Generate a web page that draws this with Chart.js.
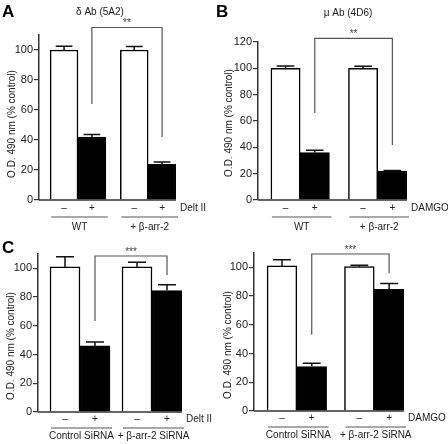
<!DOCTYPE html>
<html>
<head>
<meta charset="utf-8">
<script src="https://cdn.jsdelivr.net/npm/chart.js@4.4.1/dist/chart.umd.min.js"></script>
<style>
    html, body { margin: 0; padding: 0; background: #fff; }
    #wrap { position: relative; width: 448px; height: 444px; }
    #wrap canvas { position: absolute; left: 0; top: 0; }
</style>
</head>
<body>
<div id="wrap">
    <canvas id="panelA" width="448" height="444"></canvas>
    <canvas id="panelB" width="448" height="444"></canvas>
    <canvas id="panelC1" width="448" height="444"></canvas>
    <canvas id="panelC2" width="448" height="444"></canvas>
</div>
<script>
const treatments = ['–', '+'];
const groupsAB = ['WT', '+ β-arr-2'];
const groupsC = ['Control SiRNA', '+ β-arr-2 SiRNA'];

// % control, order: group1 −, group1 +, group2 −, group2 +
const deltValues = [100, 42, 100, 23.7];
const deltErrors = [2.5, 1.6, 2.3, 1.6];
const damgoValues = [100, 36, 100, 22];
const damgoErrors = [1.8, 1.8, 1.5, 0.4];
const deltSiValues = [101, 46, 101, 84.6];
const deltSiErrors = [7, 2.8, 3.3, 4];
const damgoSiValues = [101, 31, 100.5, 84.7];
const damgoSiErrors = [4.3, 2.3, 0.9, 4.1];

const tickStep = 20;
const yTitle = 'O.D. 490 nm (% control)';
const FONT = '"Liberation Sans", Arial, Helvetica, sans-serif';

const panels = [
    {
        id: 'panelA', letter: 'A', letterAt: [2, 12], title: 'δ Ab (5A2)', titleAt: [100, 12],
        drug: 'Delt II', values: deltValues, errors: deltErrors, groups: groupsAB, yMax: 110,
        box: { left: 39, right: 176, top: 35, bottom: 200 }, pad: 0.4, gap: 0.52,
        rows: [8, 17, 27], yTitleAt: [12, 124],
        bracket: { top: 115, ends: [64, 42], stars: '**' },
    },
    {
        id: 'panelB', letter: 'B', letterAt: [216, 12], title: 'μ Ab (4D6)', titleAt: [348, 13],
        drug: 'DAMGO', values: damgoValues, errors: damgoErrors, groups: groupsAB, yMax: 120,
        box: { left: 258, right: 407, top: 42, bottom: 200 }, pad: 0.44, gap: 0.65,
        rows: [8, 17, 27], yTitleAt: [229, 123],
        bracket: { top: 122.7, ends: [66, 41.7], stars: '**' },
    },
    {
        id: 'panelC1', letter: 'C', letterAt: [2, 248], title: '', titleAt: [0, 0],
        drug: 'Delt II', values: deltSiValues, errors: deltSiErrors, groups: groupsC, yMax: 110,
        box: { left: 38, right: 182, top: 254, bottom: 412 }, pad: 0.4, gap: 0.4,
        rows: [7, 16, 24], yTitleAt: [11, 346],
        bracket: { top: 108.6, ends: [63.4, 95.4], stars: '***' },
    },
    {
        id: 'panelC2', letter: '', letterAt: [0, 0], title: '', titleAt: [0, 0],
        drug: 'DAMGO', values: damgoSiValues, errors: damgoSiErrors, groups: groupsC, yMax: 110,
        box: { left: 254, right: 404, top: 253, bottom: 411 }, pad: 0.44, gap: 0.6,
        rows: [7, 16, 24], yTitleAt: [228, 345],
        bracket: { top: 109.3, ends: [53, 96], stars: '***' },
    },
];

const decor = {
    id: 'decor',
    afterDraw(chart, args, p) {
        const ctx = chart.ctx;
        const area = chart.chartArea;
        const y = chart.scales.y;
        const bars = chart.getDatasetMeta(0).data;
        const base = y.getPixelForValue(0);

        ctx.save();
        ctx.lineCap = 'butt';

        // baseline
        ctx.strokeStyle = '#333';
        ctx.lineWidth = 1.5;
        ctx.beginPath();
        ctx.moveTo(area.left, base);
        ctx.lineTo(bars[3].x + bars[3].width / 2, base);
        ctx.stroke();

        // error bars (upper half only)
        ctx.strokeStyle = '#111';
        ctx.lineWidth = 1.5;
        bars.forEach((bar, i) => {
            const top = y.getPixelForValue(p.values[i]);
            const errTop = y.getPixelForValue(p.values[i] + p.errors[i]);
            const cap = bar.width * 0.6;
            ctx.beginPath();
            ctx.moveTo(bar.x, top);
            ctx.lineTo(bar.x, errTop);
            ctx.moveTo(bar.x - cap / 2, errTop);
            ctx.lineTo(bar.x + cap / 2, errTop);
            ctx.stroke();
        });

        // treatment row
        ctx.fillStyle = '#222';
        ctx.textBaseline = 'middle';
        ctx.font = `10px ${FONT}`;
        ctx.textAlign = 'center';
        bars.forEach((bar, i) => {
            ctx.fillText(treatments[i % 2], bar.x, base + p.rows[0]);
        });
        ctx.textAlign = 'left';
        ctx.fillText(p.drug, bars[3].x + bars[3].width / 2 + 4, base + p.rows[0]);

        // group underlines and names
        ctx.strokeStyle = '#555';
        ctx.lineWidth = 1.2;
        ctx.textAlign = 'center';
        p.groups.forEach((name, g) => {
            const a = bars[g * 2], b = bars[g * 2 + 1];
            const x0 = a.x - a.width / 2 + 1;
            const x1 = b.x + b.width / 2 + 2;
            ctx.beginPath();
            ctx.moveTo(x0, base + p.rows[1]);
            ctx.lineTo(x1, base + p.rows[1]);
            ctx.stroke();
            ctx.fillText(name, (x0 + x1) / 2, base + p.rows[2]);
        });

        // significance bracket
        const bk = p.bracket;
        const bx0 = bars[1].x, bx1 = bars[3].x;
        const by = y.getPixelForValue(bk.top);
        ctx.strokeStyle = '#555';
        ctx.lineWidth = 1.2;
        ctx.beginPath();
        ctx.moveTo(bx0, y.getPixelForValue(bk.ends[0]));
        ctx.lineTo(bx0, by);
        ctx.lineTo(bx1, by);
        ctx.lineTo(bx1, y.getPixelForValue(bk.ends[1]));
        ctx.stroke();
        ctx.fillStyle = '#444';
        ctx.font = `10px ${FONT}`;
        ctx.fillText(bk.stars, (bx0 + bx1) / 2, by - 4);

        // title
        if (p.title) {
            ctx.fillStyle = '#222';
            ctx.font = `10px ${FONT}`;
            ctx.fillText(p.title, p.titleAt[0], p.titleAt[1]);
        }

        // panel letter
        if (p.letter) {
            ctx.fillStyle = '#000';
            ctx.textAlign = 'left';
            ctx.font = `bold 17px ${FONT}`;
            ctx.fillText(p.letter, p.letterAt[0], p.letterAt[1]);
        }

        // y axis title
        ctx.fillStyle = '#222';
        ctx.font = `10px ${FONT}`;
        ctx.textAlign = 'center';
        ctx.translate(p.yTitleAt[0], p.yTitleAt[1]);
        ctx.rotate(-Math.PI / 2);
        ctx.fillText(yTitle, 0, 0);
        ctx.restore();
    },
};

function makeChart(p) {
    const xs = p.values.map((v, i) => 1 + i + (i >= 2 ? p.gap : 0));

    new Chart(document.getElementById(p.id), {
        type: 'bar',
        data: {
            datasets: [
                {
                    data: p.values.map((v, i) => ({ x: xs[i], y: v })),
                    backgroundColor: p.values.map((v, i) => (i % 2 ? '#000' : '#fff')),
                    borderColor: '#000',
                    borderWidth: 1.5,
                    borderSkipped: 'start',
                    barPercentage: 1,
                    categoryPercentage: 1,
                },
            ],
        },
        options: {
            responsive: false,
            animation: false,
            events: [],
            layout: {
                padding: {
                    left: p.box.left - 30,
                    right: 448 - p.box.right,
                    top: p.box.top,
                    bottom: 444 - p.box.bottom,
                },
            },
            plugins: {
                legend: { display: false },
                tooltip: { enabled: false },
                decor: p,
            },
            scales: {
                x: {
                    type: 'linear',
                    display: false,
                    offset: false,
                    min: 0.5 - p.pad,
                    max: xs[3] + 0.5,
                    ticks: { stepSize: 100 },
                },
                y: {
                    min: 0,
                    max: p.yMax,
                    ticks: {
                        stepSize: tickStep,
                        includeBounds: false,
                        color: '#222',
                        padding: 1,
                        font: { family: FONT, size: 11 },
                    },
                    grid: {
                        drawOnChartArea: false,
                        tickLength: 5,
                        color: '#333',
                        lineWidth: 1.2,
                    },
                    border: { color: '#333', width: 1.5 },
                    afterFit(scale) {
                        scale.width = 30;
                    },
                },
            },
        },
        plugins: [decor],
    });
}

panels.forEach(makeChart);
</script>
</body>
</html>
